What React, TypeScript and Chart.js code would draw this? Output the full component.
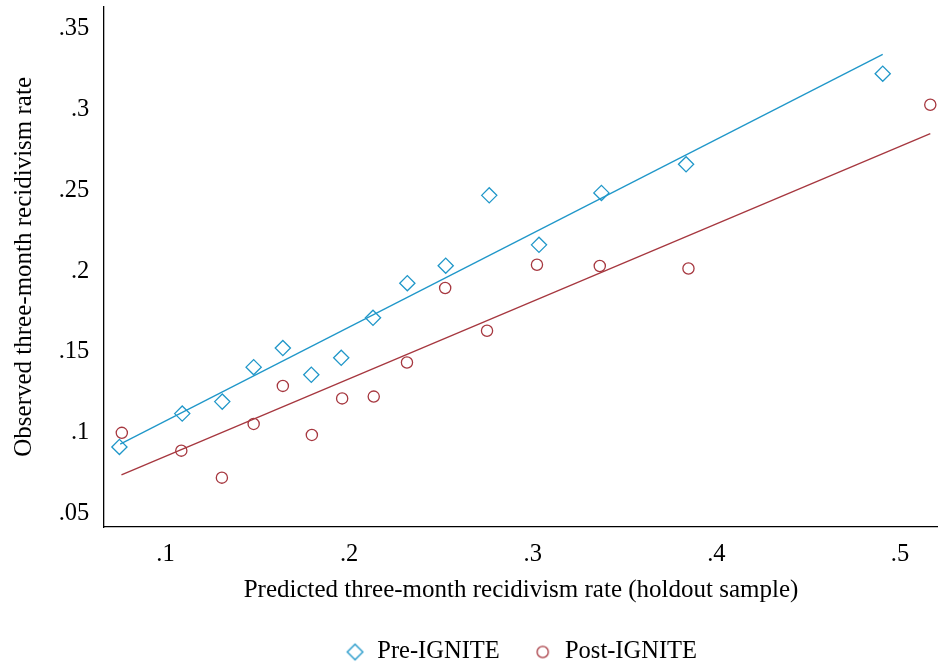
import React, { useEffect, useRef } from 'react';
import { Chart, registerables } from 'chart.js';

Chart.register(...registerables);

// Binned scatter: Pre-IGNITE (diamonds)
const PRE_X = [0.0749, 0.1091, 0.1309, 0.148, 0.1639, 0.1794, 0.1957, 0.213, 0.2317, 0.2526, 0.2763, 0.3034, 0.3374, 0.3835, 0.4906];
const PRE_Y = [0.0901, 0.1107, 0.1181, 0.1394, 0.1512, 0.1347, 0.1452, 0.1699, 0.1913, 0.2021, 0.2456, 0.215, 0.2471, 0.2648, 0.3208];
// Binned scatter: Post-IGNITE (circles)
const POST_X = [0.0762, 0.1086, 0.1307, 0.148, 0.1639, 0.1797, 0.1962, 0.2134, 0.2315, 0.2523, 0.2751, 0.3023, 0.3365, 0.3848, 0.5165];
const POST_Y = [0.0988, 0.0878, 0.0711, 0.1043, 0.1278, 0.0975, 0.1201, 0.1212, 0.1423, 0.1883, 0.1619, 0.2027, 0.2019, 0.2004, 0.3016];
// Linear fit lines (endpoints)
const PRE_FIT_X = [0.0753, 0.4906];
const PRE_FIT_Y = [0.0918, 0.3327];
const POST_FIT_X = [0.076, 0.5165];
const POST_FIT_Y = [0.0728, 0.2838];

const SERIES_LABELS = ['Pre-IGNITE', 'Post-IGNITE'];

const X_TICKS = [0.1, 0.2, 0.3, 0.4, 0.5];
const X_TICK_LABELS = ['.1', '.2', '.3', '.4', '.5'];
const Y_TICKS = [0.05, 0.1, 0.15, 0.2, 0.25, 0.3, 0.35];
const Y_TICK_LABELS = ['.05', '.1', '.15', '.2', '.25', '.3', '.35'];

const X_TITLE = 'Predicted three-month recidivism rate (holdout sample)';
const Y_TITLE = 'Observed three-month recidivism rate';

const X_MIN = 0.0665;
const X_MAX = 0.5207;
const Y_MIN = 0.0406;
const Y_MAX = 0.3622;

const BLUE = '#2097c9';
const RED = '#a6373f';
const FONT = '"Liberation Serif", "Times New Roman", serif';

function pts(xs: number[], ys: number[]) {
  return xs.map((x, i) => ({ x, y: ys[i] }));
}

function markerCanvas(kind: string, r: number, color: string, lw: number) {
  const size = Math.ceil(2 * r + lw + 4);
  const c = document.createElement('canvas');
  c.width = size;
  c.height = size;
  const ctx = c.getContext('2d')!;
  ctx.strokeStyle = color;
  ctx.lineWidth = lw;
  const m = size / 2;
  ctx.beginPath();
  if (kind === 'diamond') {
    ctx.moveTo(m - r, m);
    ctx.lineTo(m, m - r);
    ctx.lineTo(m + r, m);
    ctx.lineTo(m, m + r);
    ctx.closePath();
  } else {
    ctx.arc(m, m, r, 0, Math.PI * 2);
  }
  ctx.stroke();
  return c;
}

function labelFor(ticks: number[], labels: string[], v: number) {
  const i = ticks.findIndex((t) => Math.abs(t - v) < 1e-9);
  return i >= 0 ? labels[i] : '';
}

const zeroPadding = (s: any) => {
  s.paddingTop = 0;
  s.paddingBottom = 0;
  s.paddingLeft = 0;
  s.paddingRight = 0;
};

// Fixes the legend box height so it sits at the bottom like the original
const legendHeightPlugin = {
  id: 'legendHeight',
  beforeLayout(chart: any) {
    const lg = chart.legend;
    if (lg && !lg.__patched) {
      const orig = lg.fit;
      lg.fit = function () {
        orig.call(this);
        this.height = 57.25;
      };
      lg.__patched = true;
    }
  },
};

export default function App() {
  const ref = useRef<HTMLCanvasElement | null>(null);

  useEffect(() => {
    if (!ref.current) return;
    const legendMarkers = [
      markerCanvas('diamond', 7.8, BLUE, 1.3),
      markerCanvas('circle', 5.6, RED, 1.3),
    ];
    const chart = new Chart(ref.current, {
      type: 'scatter',
      plugins: [legendHeightPlugin],
      data: {
        datasets: [
          {
            label: SERIES_LABELS[0],
            data: pts(PRE_X, PRE_Y),
            pointStyle: 'rectRot',
            pointRadius: 7.6,
            pointBorderWidth: 1.3,
            borderColor: BLUE,
            backgroundColor: 'rgba(0,0,0,0)',
            showLine: false,
            clip: false,
            order: 1,
          },
          {
            label: SERIES_LABELS[1],
            data: pts(POST_X, POST_Y),
            pointStyle: 'circle',
            pointRadius: 5.6,
            pointBorderWidth: 1.3,
            borderColor: RED,
            backgroundColor: 'rgba(0,0,0,0)',
            showLine: false,
            clip: false,
            order: 1,
          },
          {
            label: 'fit-pre',
            data: pts(PRE_FIT_X, PRE_FIT_Y),
            showLine: true,
            pointRadius: 0,
            borderColor: BLUE,
            borderWidth: 1.3,
            order: 2,
          },
          {
            label: 'fit-post',
            data: pts(POST_FIT_X, POST_FIT_Y),
            showLine: true,
            pointRadius: 0,
            borderColor: RED,
            borderWidth: 1.3,
            order: 2,
          },
        ],
      },
      options: {
        animation: false,
        responsive: false,
        devicePixelRatio: 1,
        layout: { autoPadding: false, padding: { top: 6.7, right: 0, bottom: 0, left: 0 } },
        plugins: {
          tooltip: { enabled: false },
          legend: {
            position: 'bottom',
            fullSize: false,
            labels: {
              usePointStyle: true,
              boxWidth: 20,
              boxHeight: 11,
              padding: 33,
              color: '#000',
              font: { family: FONT, size: 24.5 },
              filter: (item: any) => item.datasetIndex < 2,
              generateLabels: (ch: any) => {
                const items = Chart.defaults.plugins.legend.labels.generateLabels(ch);
                return items.map((it: any) => {
                  if (it.datasetIndex < 2) it.pointStyle = legendMarkers[it.datasetIndex];
                  return it;
                });
              },
            },
          },
        },
        scales: {
          x: {
            type: 'linear',
            min: X_MIN,
            max: X_MAX,
            grid: { display: false, drawTicks: false },
            border: { display: true, color: '#000', width: 1.3 },
            afterBuildTicks: (s: any) => {
              s.ticks = X_TICKS.map((v) => ({ value: v }));
            },
            afterFit: (s: any) => {
              s.height = 79.75;
              zeroPadding(s);
            },
            ticks: {
              padding: 12.5,
              color: '#000',
              font: { family: FONT, size: 24.5 },
              maxRotation: 0,
              autoSkip: false,
              callback: (v: any) => labelFor(X_TICKS, X_TICK_LABELS, Number(v)),
            },
            title: {
              display: true,
              text: X_TITLE,
              color: '#000',
              font: { family: FONT, size: 25 },
              padding: { top: 0, bottom: 1.25 },
            },
          },
          y: {
            type: 'linear',
            min: Y_MIN,
            max: Y_MAX,
            grid: { display: false, drawTicks: false },
            border: { display: true, color: '#000', width: 1.3 },
            afterBuildTicks: (s: any) => {
              s.ticks = Y_TICKS.map((v) => ({ value: v }));
            },
            afterFit: (s: any) => {
              s.width = 104;
              zeroPadding(s);
            },
            ticks: {
              padding: 14.7,
              labelOffset: 2,
              color: '#000',
              font: { family: FONT, size: 24.5 },
              autoSkip: false,
              callback: (v: any) => labelFor(Y_TICKS, Y_TICK_LABELS, Number(v)),
            },
            title: {
              display: true,
              text: Y_TITLE,
              color: '#000',
              font: { family: FONT, size: 25 },
              padding: { top: 9.6, bottom: 0 },
            },
          },
        },
      },
    } as any);
    return () => chart.destroy();
  }, []);

  return (
    <div style={{ position: 'absolute', left: 0, top: 0, width: 938, height: 664, background: '#fff' }}>
      <canvas ref={ref} width={938} height={664} style={{ display: 'block' }} />
    </div>
  );
}
